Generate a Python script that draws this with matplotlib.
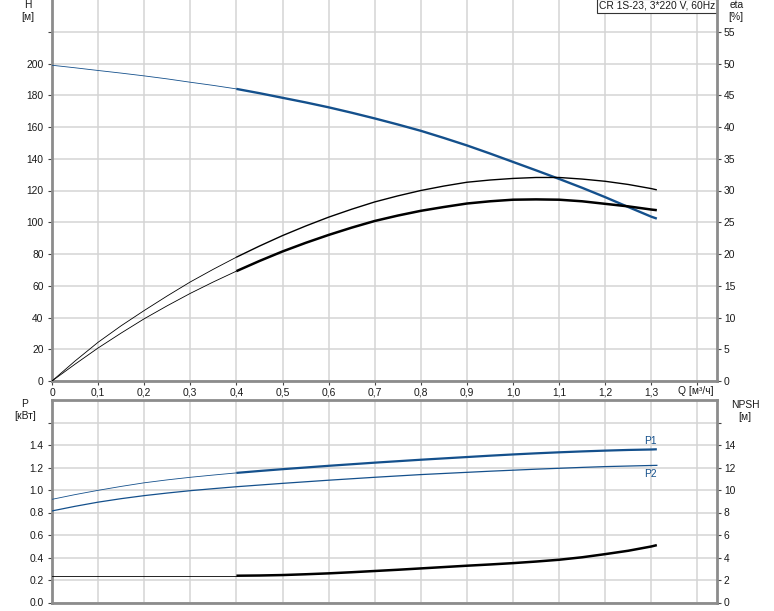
import matplotlib
matplotlib.use("Agg")
import matplotlib.pyplot as plt

plt.rcParams['font.family'] = ['Liberation Sans', 'DejaVu Sans']
plt.rcParams['font.size'] = 7.4

# pump curve data (Q in m3/h, every 0.05 up to the end point)
flow = [0, 0.05, 0.1, 0.15, 0.2, 0.25, 0.3, 0.35, 0.4, 0.45, 0.5, 0.55, 0.6, 0.65,
        0.7, 0.75, 0.8, 0.85, 0.9, 0.95, 1.0, 1.05, 1.1, 1.15, 1.2, 1.25, 1.3, 1.312]
head = [198.9, 197.3, 195.6, 193.95, 192.2, 190.3, 188.2, 186.2, 184.0, 181.3, 178.4,
        175.5, 172.4, 169.0, 165.4, 161.6, 157.6, 153.1, 148.4, 143.3, 138.0, 132.7,
        127.3, 121.7, 115.8, 109.6, 103.5, 102.3]
eta_pump = [0, 3.15, 6.1, 8.7, 11.1, 13.4, 15.6, 17.6, 19.5, 21.25, 22.9, 24.4, 25.8,
            27.05, 28.2, 29.15, 30.0, 30.7, 31.3, 31.65, 31.9, 32.05, 32.05, 31.8,
            31.45, 30.95, 30.3, 30.1]
eta_total = [0, 2.65, 5.2, 7.55, 9.8, 11.85, 13.8, 15.6, 17.3, 18.9, 20.4, 21.75, 23.0,
             24.15, 25.2, 26.05, 26.8, 27.4, 27.95, 28.3, 28.55, 28.6, 28.55, 28.3,
             27.9, 27.5, 27.0, 26.9]
p1 = [0.917, 0.959, 0.997, 1.032, 1.064, 1.090, 1.113, 1.133, 1.152, 1.169, 1.185,
      1.200, 1.215, 1.229, 1.243, 1.256, 1.269, 1.281, 1.293, 1.305, 1.316, 1.326,
      1.335, 1.343, 1.350, 1.356, 1.360, 1.362]
p2 = [0.814, 0.855, 0.892, 0.923, 0.950, 0.973, 0.994, 1.012, 1.029, 1.044, 1.059,
      1.073, 1.087, 1.100, 1.113, 1.125, 1.137, 1.147, 1.157, 1.167, 1.176, 1.185,
      1.193, 1.201, 1.208, 1.213, 1.218, 1.219]
npsh = [2.38, 2.38, 2.38, 2.38, 2.38, 2.38, 2.38, 2.38, 2.38, 2.40, 2.44, 2.51, 2.59,
        2.69, 2.80, 2.91, 3.03, 3.15, 3.27, 3.38, 3.50, 3.64, 3.80, 4.02, 4.30, 4.60,
        4.98, 5.10]

q_ticks = [0, 0.1, 0.2, 0.3, 0.4, 0.5, 0.6, 0.7, 0.8, 0.9, 1.0, 1.1, 1.2, 1.3, 1.4]
q_labels = ['0', '0,1', '0,2', '0,3', '0,4', '0,5', '0,6', '0,7', '0,8', '0,9',
            '1,0', '1,1', '1,2', '1,3', '']
h_ticks = [0, 20, 40, 60, 80, 100, 120, 140, 160, 180, 200, 220]
h_labels = ['0', '20', '40', '60', '80', '100', '120', '140', '160', '180', '200', '']
eta_ticks = [0, 5, 10, 15, 20, 25, 30, 35, 40, 45, 50, 55]
p_ticks = [0, 0.2, 0.4, 0.6, 0.8, 1.0, 1.2, 1.4, 1.6]
p_labels = ['0.0', '0.2', '0.4', '0.6', '0.8', '1.0', '1.2', '1.4', '']
npsh_ticks = [0, 2, 4, 6, 8, 10, 12, 14, 16]
npsh_labels = ['0', '2', '4', '6', '8', '10', '12', '14', '']

BLUE = '#14508c'
GRID = '#d4d4d4'
SPINE = '#8c8c8c'
TXT = '#1a1a1a'
SPLIT = flow.index(0.4)  # curves get drawn heavier from Q = 0.4 on

W, H = 774, 611
fig = plt.figure(figsize=(W / 100, H / 100), dpi=100)


def px_axes(left, top, right, bottom):
    return fig.add_axes([left / W, 1 - bottom / H, (right - left) / W, (bottom - top) / H])


def style(ax, twin, show_top):
    for side, sp in ax.spines.items():
        sp.set_color(SPINE)
        sp.set_linewidth(2)
    if twin:
        for side in ['left', 'top', 'bottom']:
            ax.spines[side].set_visible(False)
    else:
        ax.spines['right'].set_visible(False)
        ax.spines['top'].set_visible(show_top)
    ax.tick_params(axis='y', direction='out', length=3, width=0.8, color='#444444',
                   labelcolor=TXT, pad=3 if not twin else 2)


def plot_split(ax, y, color, lw_after):
    ax.plot(flow[:SPLIT + 1], y[:SPLIT + 1], color=color, lw=0.6, zorder=3)
    ax.plot(flow[SPLIT:], y[SPLIT:], color=color, lw=lw_after, zorder=3,
            solid_capstyle='butt', solid_joinstyle='round')


q_max = 1.4425

# ---- top chart: head and efficiency
axH = px_axes(52, 0, 717, 381)
axE = axH.twinx()
style(axH, False, False)
style(axE, True, False)
axH.set_xlim(0, q_max)
axH.set_ylim(0, 240)
axE.set_ylim(0, 60)
axH.set_xticks(q_ticks)
axH.set_xticklabels(q_labels)
axH.tick_params(axis='x', direction='out', length=3, width=0.8, color='#444444',
                labelcolor=TXT, pad=2)
axH.set_yticks(h_ticks)
axH.set_yticklabels(h_labels)
axE.set_yticks(eta_ticks)
axH.grid(True, color=GRID, lw=1.1)
axH.set_axisbelow(True)

plot_split(axH, head, BLUE, 1.7)
plot_split(axE, eta_pump, 'black', 1.0)
plot_split(axE, eta_total, 'black', 1.8)

axH.text(0.997, 0.998, 'CR 1S-23, 3*220 V, 60Hz', transform=axH.transAxes,
         ha='right', va='top', color=TXT, zorder=5,
         bbox=dict(boxstyle='square,pad=0.2', fc='white', ec='#333333', lw=0.8))

# ---- bottom chart: power and NPSH
axP = px_axes(52, 400, 717, 602.5)
axN = axP.twinx()
style(axP, False, True)
style(axN, True, True)
axN.spines['top'].set_visible(False)
axP.set_xlim(0, q_max)
axP.set_ylim(0, 1.8)
axN.set_ylim(0, 18)
axP.set_xticks(q_ticks)
axP.tick_params(axis='x', length=0, labelbottom=False)
axP.set_yticks(p_ticks)
axP.set_yticklabels(p_labels)
axN.set_yticks(npsh_ticks)
axN.set_yticklabels(npsh_labels)
axP.grid(True, color=GRID, lw=1.1)
axP.set_axisbelow(True)

plot_split(axP, p1, BLUE, 1.6)
axP.plot(flow, p2, color=BLUE, lw=0.9, zorder=3)
plot_split(axN, npsh, 'black', 1.8)
axP.text(flow[-1], p1[-1] + 0.03, 'P1', ha='right', va='bottom', color=BLUE)
axP.text(flow[-1], p2[-1] - 0.03, 'P2', ha='right', va='top', color=BLUE)

# ---- axis captions
fig.text(714 / W, 1 - 391 / H, 'Q [м³/ч]', ha='right', va='center', color=TXT)
fig.text(28 / W, 1 - 5 / H, 'H', ha='center', va='center', color=TXT)
fig.text(28 / W, 1 - 17 / H, '[м]', ha='center', va='center', color=TXT)
fig.text(737 / W, 1 - 5 / H, 'eta', ha='center', va='center', color=TXT)
fig.text(736 / W, 1 - 17 / H, '[%]', ha='center', va='center', color=TXT)
fig.text(25 / W, 1 - 404 / H, 'P', ha='center', va='center', color=TXT)
fig.text(25 / W, 1 - 416 / H, '[кВт]', ha='center', va='center', color=TXT)
fig.text(745 / W, 1 - 405 / H, 'NPSH', ha='center', va='center', color=TXT)
fig.text(745 / W, 1 - 417 / H, '[м]', ha='center', va='center', color=TXT)

fig.savefig('out.png', dpi=100, facecolor='white')
